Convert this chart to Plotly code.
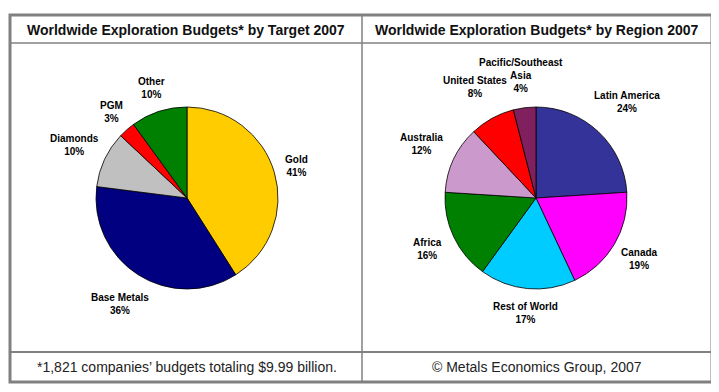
import math
import plotly.graph_objects as go

W, H = 719, 392
OFF = 8  # default page margin of the html body

# Data
target_labels = ["Gold", "Base Metals", "Diamonds", "PGM", "Other"]
target_values = [41, 36, 10, 3, 10]
target_colors = ["#FFCC00", "#000080", "#C0C0C0", "#FF0000", "#008000"]

region_labels = ["Latin America", "Canada", "Rest of World", "Africa",
                 "Australia", "United States", "Pacific/Southeast Asia"]
region_display = ["Latin America", "Canada", "Rest of World", "Africa",
                  "Australia", "United States", "Pacific/Southeast<br>Asia"]
region_values = [24, 19, 17, 16, 12, 8, 4]
region_colors = ["#333399", "#FF00FF", "#00CCFF", "#008000",
                 "#CC99CC", "#FF0000", "#80205F"]

title_left = "Worldwide Exploration Budgets* by Target 2007"
title_right = "Worldwide Exploration Budgets* by Region 2007"
foot_left = "*1,821 companies\u2019 budgets totaling $9.99 billion."
foot_right = "\u00a9 Metals Economics Group, 2007"

FONT = "Liberation Sans, Arial, sans-serif"
LABEL_SIZE = 10
FW, FH = W - OFF, H - OFF


def px_x(x):
    return (x - OFF) / FW


def px_y(y):
    return 1 - (y - OFF) / FH


def domain(cx, cy, r):
    return dict(x=[px_x(cx - r), px_x(cx + r)], y=[px_y(cy + r), px_y(cy - r)])


def text_width(s, size):
    # rough bold Arial width estimate
    return max(len(line) for line in s.split("<br>")) * size * 0.53


def pie_labels(names, values, cx, cy, r, gap=9):
    total = float(sum(values))
    out = []
    cum = 0.0
    for name, v in zip(names, values):
        mid = (cum + v / 2.0) / total * 2 * math.pi
        cum += v
        dx, dy = math.sin(mid), -math.cos(mid)
        nlines = name.count("<br>") + 2
        hw = text_width(name, LABEL_SIZE) / 2
        hh = nlines * LABEL_SIZE * 1.2 / 2
        d = r + gap + abs(dx) * hw + abs(dy) * hh
        x, y = cx + d * dx, cy + d * dy
        out.append(dict(text="%s<br>%d%%" % (name, v), x=px_x(x), y=px_y(y),
                        xref="paper", yref="paper", showarrow=False,
                        xanchor="center", yanchor="middle", align="center",
                        font=dict(family=FONT, size=LABEL_SIZE, color="black",
                                  weight="bold")))
    return out


LC, RC, CY, R = 187, 536, 198, 91

fig = go.Figure()
fig.add_trace(go.Pie(
    labels=target_labels, values=target_values,
    marker=dict(colors=target_colors, line=dict(color="black", width=0.8)),
    sort=False, direction="clockwise", rotation=0,
    textinfo="none",
    domain=domain(LC, CY, R), showlegend=False, hoverinfo="label+value",
))
fig.add_trace(go.Pie(
    labels=region_labels, values=region_values,
    marker=dict(colors=region_colors, line=dict(color="black", width=0.8)),
    sort=False, direction="clockwise", rotation=0,
    textinfo="none",
    domain=domain(RC, CY, R), showlegend=False, hoverinfo="label+value",
))

shapes = []
grey = "#808080"
shapes.append(dict(type="rect", xref="paper", yref="paper",
                   x0=px_x(10), x1=px_x(712), y0=px_y(382), y1=px_y(15),
                   line=dict(color=grey, width=3)))
shapes.append(dict(type="line", xref="paper", yref="paper",
                   x0=px_x(10), x1=px_x(712), y0=px_y(43), y1=px_y(43),
                   line=dict(color=grey, width=1.5)))
shapes.append(dict(type="line", xref="paper", yref="paper",
                   x0=px_x(10), x1=px_x(712), y0=px_y(352), y1=px_y(352),
                   line=dict(color=grey, width=2)))
shapes.append(dict(type="line", xref="paper", yref="paper",
                   x0=px_x(362), x1=px_x(362), y0=px_y(382), y1=px_y(15),
                   line=dict(color=grey, width=1.5)))

annotations = [
    dict(text=title_left, x=px_x(186), y=px_y(30)),
    dict(text=title_right, x=px_x(537), y=px_y(30)),
    dict(text=foot_left, x=px_x(187), y=px_y(367)),
    dict(text=foot_right, x=px_x(537), y=px_y(367)),
]
for i, a in enumerate(annotations):
    a.update(xref="paper", yref="paper", showarrow=False,
             xanchor="center", yanchor="middle")
    if i < 2:
        a["font"] = dict(family=FONT, size=14, color="#111111", weight="bold")
    else:
        a["font"] = dict(family=FONT, size=14, color="#222222")

annotations += pie_labels(target_labels, target_values, LC, CY, R)
annotations += pie_labels(region_display, region_values, RC, CY, R)

fig.update_layout(
    width=FW, height=FH,
    margin=dict(l=0, r=0, t=0, b=0),
    paper_bgcolor="white", plot_bgcolor="white",
    shapes=shapes, annotations=annotations,
)

fig.write_html("out.html")
